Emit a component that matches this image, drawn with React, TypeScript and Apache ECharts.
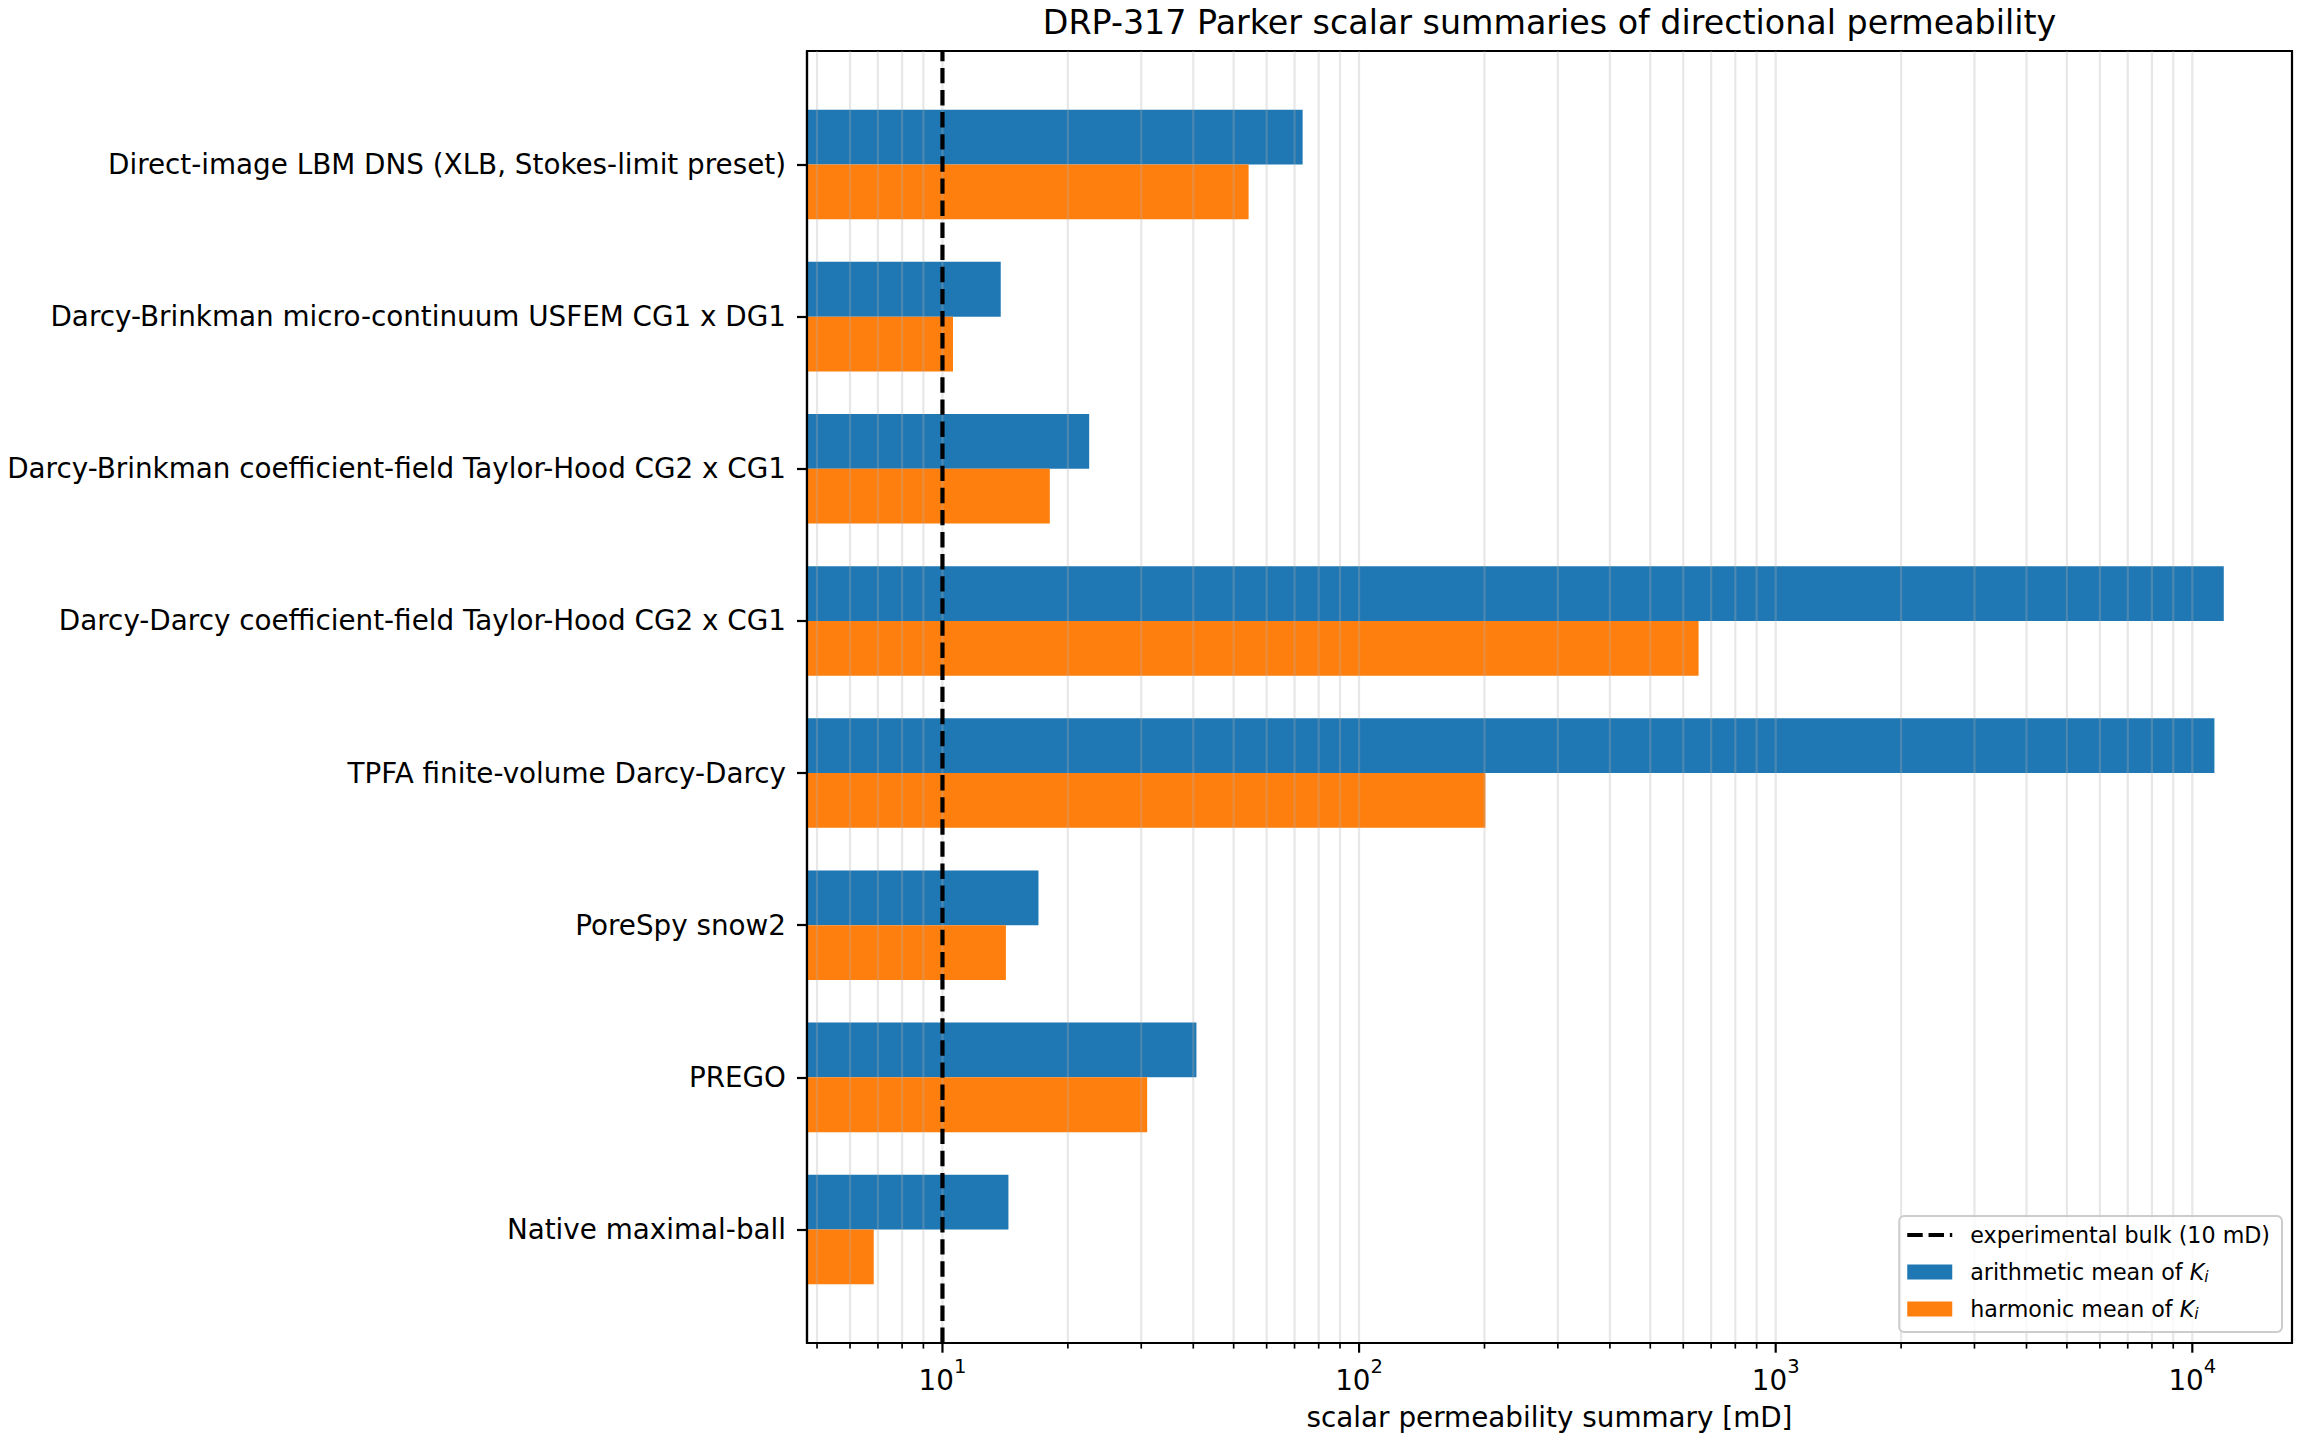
import React, { useEffect, useRef } from "react";
import * as echarts from "echarts";

const categories = [
  "Direct-image LBM DNS (XLB, Stokes-limit preset)",
  "Darcy-Brinkman micro-continuum USFEM CG1 x DG1",
  "Darcy-Brinkman coefficient-field Taylor-Hood CG2 x CG1",
  "Darcy-Darcy coefficient-field Taylor-Hood CG2 x CG1",
  "TPFA finite-volume Darcy-Darcy",
  "PoreSpy snow2",
  "PREGO",
  "Native maximal-ball",
];
const arithmeticMean = [73.2, 13.8, 22.5, 11900, 11300, 17.0, 40.7, 14.4];
const harmonicMean = [54.3, 10.6, 18.1, 653, 201, 14.2, 31.0, 6.84];
const experimentalBulk = 10;

const majorTicks = [10, 100, 1000, 10000];
const minorTicks = [
  5, 6, 7, 8, 9,
  20, 30, 40, 50, 60, 70, 80, 90,
  200, 300, 400, 500, 600, 700, 800, 900,
  2000, 3000, 4000, 5000, 6000, 7000, 8000, 9000,
];
const categoryIndex = [0, 1, 2, 3, 4, 5, 6, 7];

const X_MIN = 4.73;
const X_MAX = 17350;
const Y_MIN = -0.746;
const Y_MAX = 7.746;
const BAR_H = 0.36;

const FONT = "DejaVu Sans";
const BLUE = "#1f77b4";
const ORANGE = "#ff7f0e";

const NAME_BULK = "experimental bulk (10 mD)";
const NAME_ARITH = "arithmetic mean of K_i";
const NAME_HARM = "harmonic mean of K_i";

function barSeries(name: string, values: number[], color: string, off0: number, off1: number) {
  return {
    type: "custom",
    name,
    coordinateSystem: "cartesian2d",
    itemStyle: { color },
    encode: { x: 0, y: 1 },
    z: 2,
    data: values.map((v, i) => [v, i]),
    renderItem: (params: any, api: any) => {
      const v = api.value(0);
      const i = api.value(1);
      const p0 = api.coord([X_MIN, i + off0]);
      const p1 = api.coord([v, i + off1]);
      return {
        type: "rect",
        shape: {
          x: p0[0],
          y: Math.min(p0[1], p1[1]),
          width: p1[0] - p0[0],
          height: Math.abs(p1[1] - p0[1]),
        },
        style: { fill: color },
      };
    },
  };
}

export default function App() {
  const ref = useRef<HTMLDivElement>(null);

  useEffect(() => {
    if (!ref.current) return;
    const chart = echarts.init(ref.current, null, { renderer: "svg" });

    const gridValues = [...minorTicks, ...majorTicks];

    const option: any = {
      animation: false,
      backgroundColor: "#ffffff",
      title: {
        text: "DRP-317 Parker scalar summaries of directional permeability",
        left: 1549.5,
        top: 6,
        textAlign: "center",
        padding: 0,
        textStyle: { fontSize: 33.3, fontWeight: "normal", fontFamily: FONT, color: "#000" },
      },
      grid: {
        left: 807,
        right: 8,
        top: 51,
        bottom: 97,
        show: true,
        borderColor: "#000",
        borderWidth: 2.2,
        backgroundColor: "transparent",
      },
      xAxis: {
        type: "log",
        logBase: 10,
        min: X_MIN,
        max: X_MAX,
        z: 10,
        name: "scalar permeability summary [mD]",
        nameLocation: "middle",
        nameGap: 60,
        nameTextStyle: { fontSize: 27.8, color: "#000", fontFamily: FONT },
        axisLine: { show: true, onZero: false, lineStyle: { color: "#000", width: 2.2 } },
        axisTick: { show: false },
        splitLine: { show: false },
        minorTick: { show: false },
        axisLabel: {
          margin: 13,
          showMinLabel: false,
          showMaxLabel: false,
          formatter: (v: number) => {
            const e = Math.log10(v);
            const r = Math.round(e);
            if (Math.abs(e - r) > 1e-6) return "";
            return "{b|10}{s|" + r + "}";
          },
          rich: {
            b: { fontSize: 27.8, fontFamily: FONT, color: "#000", lineHeight: 38, verticalAlign: "bottom" },
            s: { fontSize: 19.5, fontFamily: FONT, color: "#000", lineHeight: 20, verticalAlign: "top" },
          },
        },
      },
      yAxis: {
        type: "value",
        inverse: true,
        min: Y_MIN,
        max: Y_MAX,
        z: 10,
        axisLine: { show: true, onZero: false, lineStyle: { color: "#000", width: 2.2 } },
        axisTick: {
          show: true,
          length: 10,
          customValues: categoryIndex,
          lineStyle: { color: "#000", width: 2.2 },
        },
        splitLine: { show: false },
        axisLabel: {
          customValues: categoryIndex,
          margin: 21,
          fontSize: 27.8,
          fontFamily: FONT,
          color: "#000",
          padding: [3, 0, 0, 0],
          formatter: (v: number) => {
            const r = Math.round(v);
            if (Math.abs(v - r) > 1e-6) return "";
            return categories[r] ?? "";
          },
        },
      },
      legend: {
        orient: "vertical",
        right: 18,
        bottom: 108,
        itemWidth: 45,
        itemHeight: 15,
        itemGap: 11,
        padding: [6, 12, 10, 8],
        borderColor: "#cccccc",
        borderWidth: 2,
        borderRadius: 5,
        backgroundColor: "rgba(255,255,255,0.8)",
        data: [
          { name: NAME_BULK, icon: "path://M0 0h16v4H0z M22 0h16v4H22z M44 0h2.5v4H44z" },
          { name: NAME_ARITH, icon: "rect" },
          { name: NAME_HARM, icon: "rect" },
        ],
        formatter: (name: string) => name.replace("K_i", "{k|K}{sub|i}"),
        textStyle: {
          fontSize: 22.2,
          fontFamily: FONT,
          color: "#000",
          lineHeight: 26,
          padding: [0, 0, 0, 13],
          rich: {
            k: { fontSize: 22.2, fontFamily: FONT, fontStyle: "italic", color: "#000", lineHeight: 26 },
            sub: { fontSize: 15.5, fontFamily: FONT, fontStyle: "italic", color: "#000", lineHeight: 16, verticalAlign: "bottom" },
          },
        },
      },
      series: [
        barSeries(NAME_ARITH, arithmeticMean, BLUE, -BAR_H, 0),
        barSeries(NAME_HARM, harmonicMean, ORANGE, 0, BAR_H),
        {
          type: "custom",
          name: "gridlines",
          silent: true,
          z: 3,
          encode: { x: 0, y: 1 },
          data: gridValues.map((v) => [v, 0]),
          renderItem: (params: any, api: any) => {
            const x = api.coord([api.value(0), 0])[0];
            const cs = params.coordSys;
            return {
              type: "line",
              shape: { x1: x, y1: cs.y, x2: x, y2: cs.y + cs.height },
              style: { stroke: "rgba(176,176,176,0.3)", lineWidth: 2.2 },
            };
          },
        },
        {
          type: "custom",
          name: "xticks",
          silent: true,
          z: 10,
          clip: false,
          encode: { x: 0, y: 1 },
          data: [
            ...majorTicks.map((v) => [v, 1]),
            ...minorTicks.map((v) => [v, 0]),
          ],
          renderItem: (params: any, api: any) => {
            const x = api.coord([api.value(0), 0])[0];
            const major = api.value(1) === 1;
            const cs = params.coordSys;
            const y0 = cs.y + cs.height;
            return {
              type: "line",
              shape: { x1: x, y1: y0, x2: x, y2: y0 + (major ? 9.7 : 5.6) },
              style: { stroke: "#000", lineWidth: major ? 2.2 : 1.67 },
            };
          },
        },
        {
          type: "line",
          name: NAME_BULK,
          z: 5,
          symbol: "none",
          silent: true,
          itemStyle: { color: "#000" },
          lineStyle: { color: "#000", width: 4.2, type: [15.4, 6.7] },
          data: [
            [experimentalBulk, Y_MAX],
            [experimentalBulk, Y_MIN],
          ],
        },
      ],
    };

    chart.setOption(option);
    return () => chart.dispose();
  }, []);

  return (
    <div
      ref={ref}
      style={{ position: "fixed", left: 0, top: 0, width: 2300, height: 1440, background: "#fff" }}
    />
  );
}
